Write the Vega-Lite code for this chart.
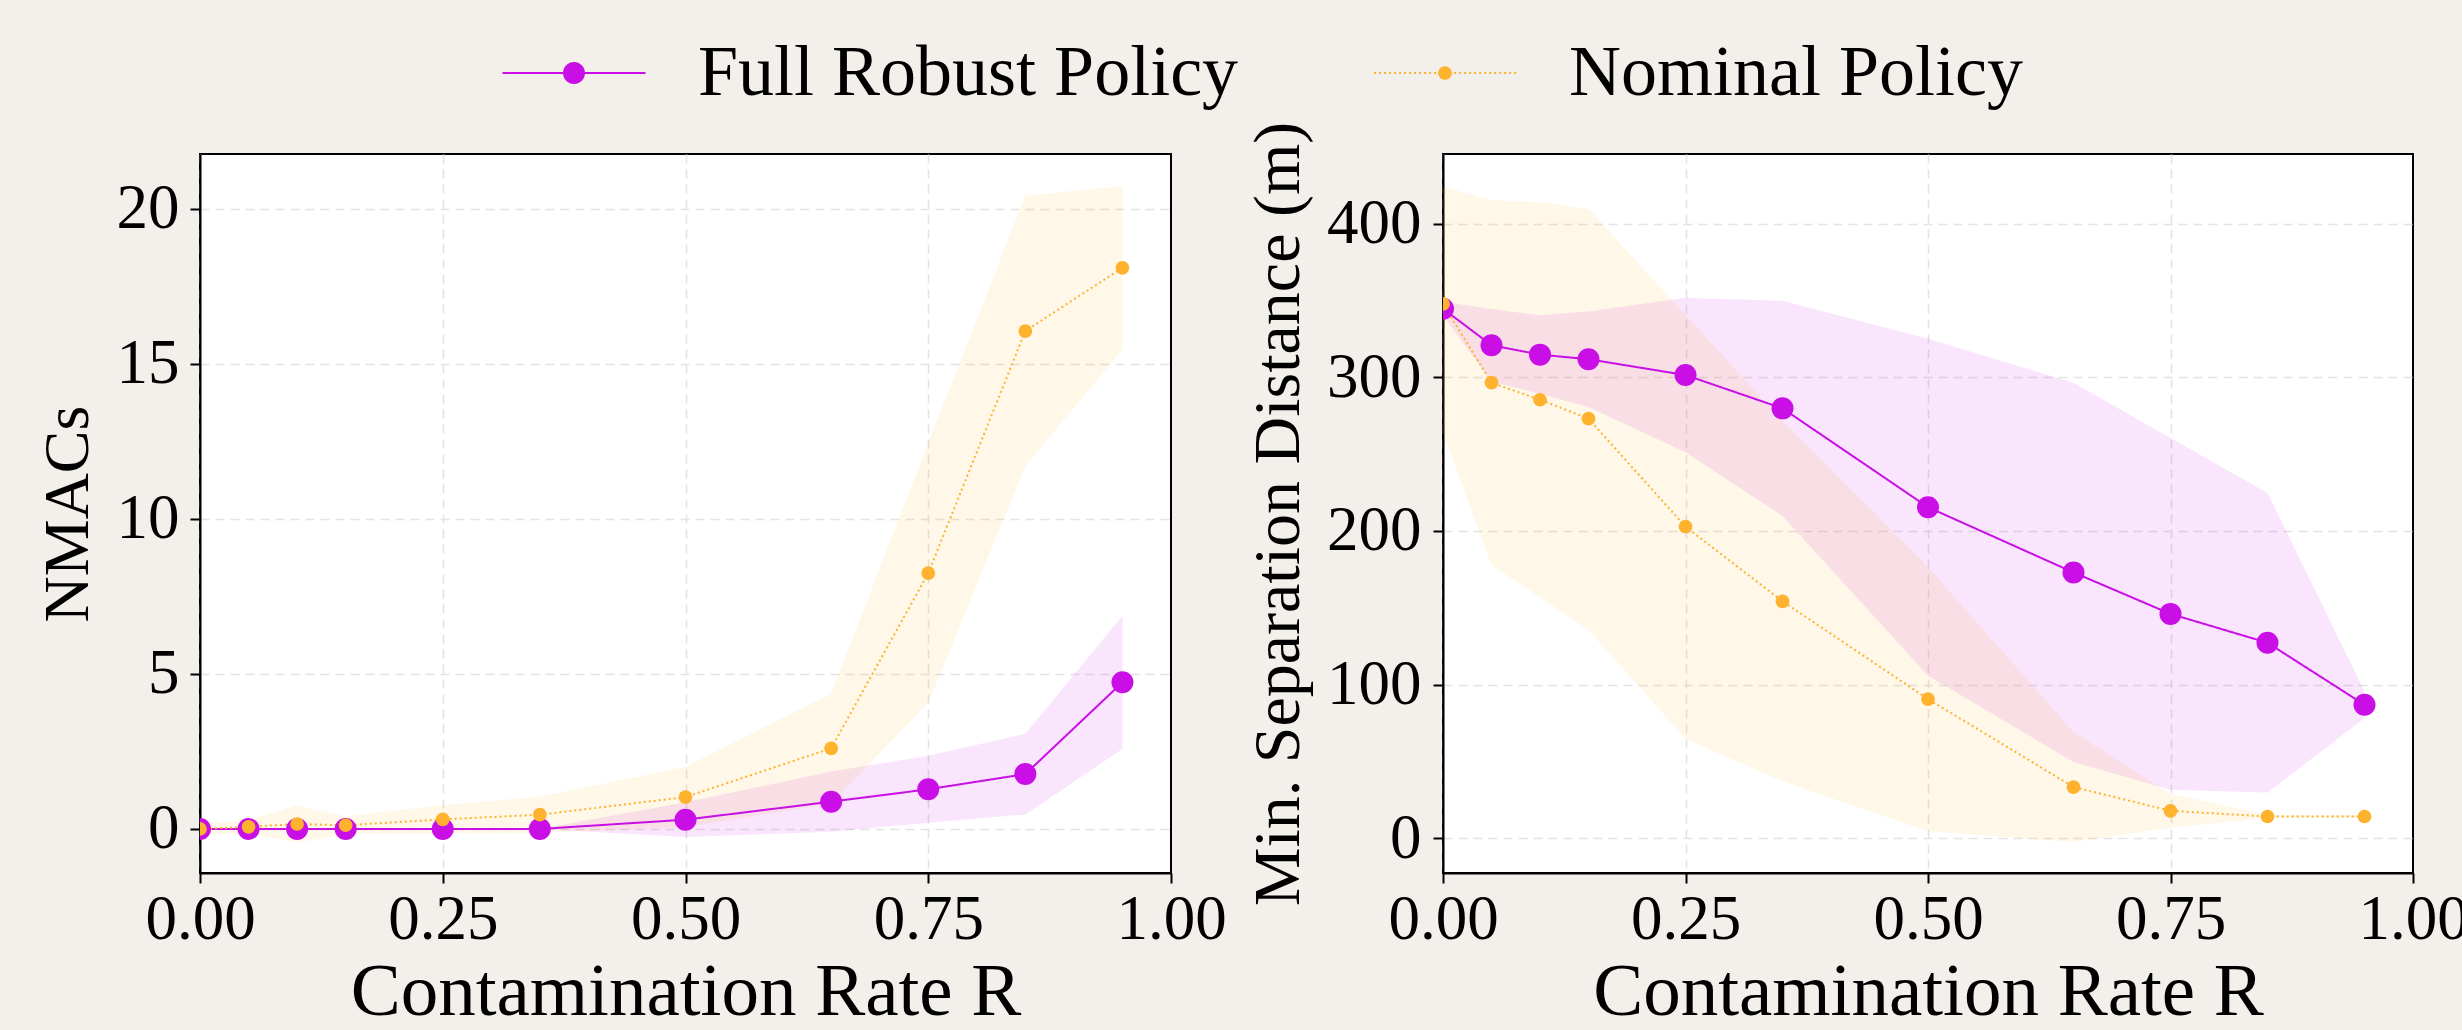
{
  "$schema": "https://vega.github.io/schema/vega-lite/v6.json",
  "background": "#f3f0eb",
  "padding": {"left": 35, "top": 37, "right": 0, "bottom": 0},
  "datasets": {
    "nmacs": [
      {"R": 0.0, "policy": "Full Robust Policy", "mean": 0.0, "lo": 0.0, "hi": 0.0},
      {"R": 0.05, "policy": "Full Robust Policy", "mean": 0.0, "lo": 0.0, "hi": 0.0},
      {"R": 0.1, "policy": "Full Robust Policy", "mean": 0.0, "lo": 0.0, "hi": 0.0},
      {"R": 0.15, "policy": "Full Robust Policy", "mean": 0.0, "lo": 0.0, "hi": 0.0},
      {"R": 0.25, "policy": "Full Robust Policy", "mean": 0.0, "lo": 0.0, "hi": 0.0},
      {"R": 0.35, "policy": "Full Robust Policy", "mean": 0.0, "lo": 0.0, "hi": 0.0},
      {"R": 0.5, "policy": "Full Robust Policy", "mean": 0.3, "lo": -0.26, "hi": 0.86},
      {"R": 0.65, "policy": "Full Robust Policy", "mean": 0.88, "lo": -0.09, "hi": 1.85},
      {"R": 0.75, "policy": "Full Robust Policy", "mean": 1.28, "lo": 0.2, "hi": 2.36},
      {"R": 0.85, "policy": "Full Robust Policy", "mean": 1.77, "lo": 0.47, "hi": 3.07},
      {"R": 0.95, "policy": "Full Robust Policy", "mean": 4.73, "lo": 2.58, "hi": 6.88},
      {"R": 0.0, "policy": "Nominal Policy", "mean": 0.0, "lo": -0.16, "hi": 0.17},
      {"R": 0.05, "policy": "Nominal Policy", "mean": 0.07, "lo": -0.15, "hi": 0.29},
      {"R": 0.1, "policy": "Nominal Policy", "mean": 0.16, "lo": -0.44, "hi": 0.76},
      {"R": 0.15, "policy": "Nominal Policy", "mean": 0.12, "lo": -0.16, "hi": 0.4},
      {"R": 0.25, "policy": "Nominal Policy", "mean": 0.31, "lo": -0.15, "hi": 0.77},
      {"R": 0.35, "policy": "Nominal Policy", "mean": 0.46, "lo": -0.12, "hi": 1.04},
      {"R": 0.5, "policy": "Nominal Policy", "mean": 1.03, "lo": 0.06, "hi": 2.0},
      {"R": 0.65, "policy": "Nominal Policy", "mean": 2.6, "lo": 0.83, "hi": 4.37},
      {"R": 0.75, "policy": "Nominal Policy", "mean": 8.25, "lo": 4.06, "hi": 12.45},
      {"R": 0.85, "policy": "Nominal Policy", "mean": 16.06, "lo": 11.7, "hi": 20.43},
      {"R": 0.95, "policy": "Nominal Policy", "mean": 18.1, "lo": 15.47, "hi": 20.73}
    ],
    "sep": [
      {"R": 0.0, "policy": "Full Robust Policy", "mean": 344.8, "lo": 340.2, "hi": 349.4},
      {"R": 0.05, "policy": "Full Robust Policy", "mean": 321.0, "lo": 297.4, "hi": 344.6},
      {"R": 0.1, "policy": "Full Robust Policy", "mean": 314.9, "lo": 289.3, "hi": 340.5},
      {"R": 0.15, "policy": "Full Robust Policy", "mean": 311.9, "lo": 280.8, "hi": 343.0},
      {"R": 0.25, "policy": "Full Robust Policy", "mean": 301.6, "lo": 251.3, "hi": 351.9},
      {"R": 0.35, "policy": "Full Robust Policy", "mean": 279.9, "lo": 209.8, "hi": 350.0},
      {"R": 0.5, "policy": "Full Robust Policy", "mean": 215.5, "lo": 105.7, "hi": 325.3},
      {"R": 0.65, "policy": "Full Robust Policy", "mean": 173.0, "lo": 49.5, "hi": 296.5},
      {"R": 0.75, "policy": "Full Robust Policy", "mean": 146.0, "lo": 31.4, "hi": 260.6},
      {"R": 0.85, "policy": "Full Robust Policy", "mean": 127.2, "lo": 29.6, "hi": 224.8},
      {"R": 0.95, "policy": "Full Robust Policy", "mean": 86.8, "lo": 78.0, "hi": 95.6},
      {"R": 0.0, "policy": "Nominal Policy", "mean": 347.9, "lo": 264.0, "hi": 424.3},
      {"R": 0.05, "policy": "Nominal Policy", "mean": 296.6, "lo": 177.9, "hi": 415.6},
      {"R": 0.1, "policy": "Nominal Policy", "mean": 285.5, "lo": 156.9, "hi": 414.1},
      {"R": 0.15, "policy": "Nominal Policy", "mean": 273.2, "lo": 135.5, "hi": 409.8},
      {"R": 0.25, "policy": "Nominal Policy", "mean": 202.8, "lo": 64.7, "hi": 341.0},
      {"R": 0.35, "policy": "Nominal Policy", "mean": 154.2, "lo": 36.9, "hi": 271.5},
      {"R": 0.5, "policy": "Nominal Policy", "mean": 90.5, "lo": 4.4, "hi": 176.6},
      {"R": 0.65, "policy": "Nominal Policy", "mean": 33.2, "lo": -2.6, "hi": 69.0},
      {"R": 0.75, "policy": "Nominal Policy", "mean": 17.7, "lo": 6.6, "hi": 28.8},
      {"R": 0.85, "policy": "Nominal Policy", "mean": 14.0, "lo": 13.0, "hi": 15.0},
      {"R": 0.95, "policy": "Nominal Policy", "mean": 14.0, "lo": 13.0, "hi": 15.0}
    ]
  },
  "bounds": "flush",
  "spacing": 272,
  "resolve": {"scale": {"x": "independent", "y": "independent"}},
  "hconcat": [
    {
      "width": 971,
      "height": 719,
      "data": {"name": "nmacs"},
      "encoding": {
        "x": {"field": "R", "type": "quantitative", "title": "Contamination Rate R",
          "scale": {"domain": [0, 1], "nice": false, "zero": false},
          "axis": {"values": [0, 0.25, 0.5, 0.75, 1], "format": ".2f", "grid": true,
            "gridOpacity": {"condition": {"test": "datum.value >= 0.999", "value": 0}, "value": 1}}}
      },
      "layer": [
        {
          "mark": {"type": "point", "filled": true, "opacity": 0, "clip": true},
          "encoding": {
            "y": {"field": "mean", "type": "quantitative", "title": "NMACs",
              "scale": {"domain": [-1.42, 21.77], "nice": false, "zero": false},
              "axis": {"values": [0, 5, 10, 15, 20], "titleFontSize": 64, "titlePadding": 16}},
            "color": {"field": "policy", "type": "nominal",
              "scale": {"domain": ["Full Robust Policy", "Nominal Policy"], "range": ["#ca0ee6", "#feb22d"]},
              "legend": {"orient": "none", "legendX": 338, "legendY": -117, "direction": "horizontal", "columns": 2}},
            "shape": {"field": "policy", "type": "nominal",
              "scale": {"domain": ["Full Robust Policy", "Nominal Policy"],
                "range": [
                  "M-6.5,-0.09H6.5V0.09H-6.5Z M1,0A1,1,0,1,1,-1,0A1,1,0,1,1,1,0Z",
                  "M-10.35,-0.15h0.29v0.3h-0.29Z M-9.62,-0.15h0.29v0.3h-0.29Z M-8.89,-0.15h0.29v0.3h-0.29Z M-8.16,-0.15h0.29v0.3h-0.29Z M-7.43,-0.15h0.29v0.3h-0.29Z M-6.7,-0.15h0.29v0.3h-0.29Z M-5.97,-0.15h0.29v0.3h-0.29Z M-5.24,-0.15h0.29v0.3h-0.29Z M-4.51,-0.15h0.29v0.3h-0.29Z M-3.78,-0.15h0.29v0.3h-0.29Z M-3.05,-0.15h0.29v0.3h-0.29Z M-2.32,-0.15h0.29v0.3h-0.29Z M-1.59,-0.15h0.29v0.3h-0.29Z M-0.86,-0.15h0.29v0.3h-0.29Z M-0.13,-0.15h0.29v0.3h-0.29Z M0.6,-0.15h0.29v0.3h-0.29Z M1.33,-0.15h0.29v0.3h-0.29Z M2.06,-0.15h0.29v0.3h-0.29Z M2.79,-0.15h0.29v0.3h-0.29Z M3.52,-0.15h0.29v0.3h-0.29Z M4.25,-0.15h0.29v0.3h-0.29Z M4.98,-0.15h0.29v0.3h-0.29Z M5.71,-0.15h0.29v0.3h-0.29Z M6.44,-0.15h0.29v0.3h-0.29Z M7.17,-0.15h0.29v0.3h-0.29Z M7.9,-0.15h0.29v0.3h-0.29Z M8.63,-0.15h0.29v0.3h-0.29Z M9.36,-0.15h0.29v0.3h-0.29Z M10.09,-0.15h0.29v0.3h-0.29Z M1,0A1,1,0,1,1,-1,0A1,1,0,1,1,1,0Z"
                ]}},
            "size": {"field": "policy", "type": "nominal",
              "scale": {"domain": ["Full Robust Policy", "Nominal Policy"], "range": [484, 188]}}
          }
        },
        {
          "mark": {"type": "area", "opacity": 0.11, "clip": true},
          "encoding": {
            "y": {"field": "lo", "type": "quantitative", "title": "NMACs"},
            "y2": {"field": "hi"},
            "fill": {"field": "policy", "type": "nominal", "legend": null,
              "scale": {"domain": ["Nominal Policy", "Full Robust Policy"], "range": ["#feb22d", "#ca0ee6"]}}
          }
        },
        {
          "mark": {"type": "line", "strokeWidth": 2, "clip": true},
          "encoding": {
            "y": {"field": "mean", "type": "quantitative", "title": "NMACs"},
            "stroke": {"field": "policy", "type": "nominal", "legend": null,
              "scale": {"domain": ["Nominal Policy", "Full Robust Policy"], "range": ["#feb22d", "#ca0ee6"]}},
            "strokeDash": {"field": "policy", "type": "nominal", "legend": null,
              "scale": {"domain": ["Nominal Policy", "Full Robust Policy"], "range": [[2, 3], [1, 0]]}}
          }
        },
        {
          "mark": {"type": "point", "filled": true, "opacity": 1, "clip": true},
          "encoding": {
            "y": {"field": "mean", "type": "quantitative", "title": "NMACs"},
            "fill": {"field": "policy", "type": "nominal", "legend": null},
            "size": {"field": "policy", "type": "nominal"}
          }
        }
      ]
    },
    {
      "width": 970,
      "height": 719,
      "data": {"name": "sep"},
      "encoding": {
        "x": {"field": "R", "type": "quantitative", "title": "Contamination Rate R",
          "scale": {"domain": [0, 1], "nice": false, "zero": false},
          "axis": {"values": [0, 0.25, 0.5, 0.75, 1], "format": ".2f", "grid": true,
            "gridOpacity": {"condition": {"test": "datum.value >= 0.999", "value": 0}, "value": 1}}}
      },
      "layer": [
        {
          "mark": {"type": "area", "opacity": 0.11, "clip": true},
          "encoding": {
            "y": {"field": "lo", "type": "quantitative", "title": "Min. Separation Distance (m)",
              "scale": {"domain": [-22.8, 445.6], "nice": false, "zero": false},
              "axis": {"values": [0, 100, 200, 300, 400], "titleFontSize": 66, "labelPadding": 12, "titlePadding": 14}},
            "y2": {"field": "hi"},
            "fill": {"field": "policy", "type": "nominal", "legend": null,
              "scale": {"domain": ["Nominal Policy", "Full Robust Policy"], "range": ["#feb22d", "#ca0ee6"]}}
          }
        },
        {
          "mark": {"type": "line", "strokeWidth": 2, "clip": true},
          "encoding": {
            "y": {"field": "mean", "type": "quantitative", "title": "Min. Separation Distance (m)"},
            "stroke": {"field": "policy", "type": "nominal", "legend": null,
              "scale": {"domain": ["Nominal Policy", "Full Robust Policy"], "range": ["#feb22d", "#ca0ee6"]}},
            "strokeDash": {"field": "policy", "type": "nominal", "legend": null,
              "scale": {"domain": ["Nominal Policy", "Full Robust Policy"], "range": [[2, 3], [1, 0]]}}
          }
        },
        {
          "mark": {"type": "point", "filled": true, "opacity": 1, "clip": true},
          "encoding": {
            "y": {"field": "mean", "type": "quantitative", "title": "Min. Separation Distance (m)"},
            "fill": {"field": "policy", "type": "nominal", "legend": null,
              "scale": {"domain": ["Nominal Policy", "Full Robust Policy"], "range": ["#feb22d", "#ca0ee6"]}},
            "size": {"field": "policy", "type": "nominal",
              "scale": {"domain": ["Full Robust Policy", "Nominal Policy"], "range": [484, 188]}}
          }
        }
      ]
    }
  ],
  "config": {
    "font": "Liberation Serif",
    "view": {"fill": "white", "stroke": "black", "strokeWidth": 2},
    "axis": {
      "domainColor": "black", "domainWidth": 2,
      "tickColor": "black", "tickWidth": 2, "tickSize": 10,
      "labelColor": "black", "labelFontSize": 63, "labelFont": "Liberation Serif",
      "titleFont": "Liberation Serif", "titleFontWeight": "normal", "titleColor": "black",
      "gridColor": "#e3e3e3", "gridDash": [9, 6], "gridWidth": 1.6,
      "labelFlush": false, "labelOverlap": false, "titleLimit": 2000
    },
    "axisX": {"labelPadding": 5, "titlePadding": 4, "titleFontSize": 75},
    "axisY": {"labelPadding": 11, "titlePadding": 10},
    "legend": {
      "title": null,
      "padding": 0,
      "labelFontSize": 72,
      "labelFont": "Liberation Serif",
      "labelColor": "black",
      "labelLimit": 2000,
      "labelOffset": 88,
      "columnPadding": 132,
      "symbolOpacity": 1
    }
  }
}
